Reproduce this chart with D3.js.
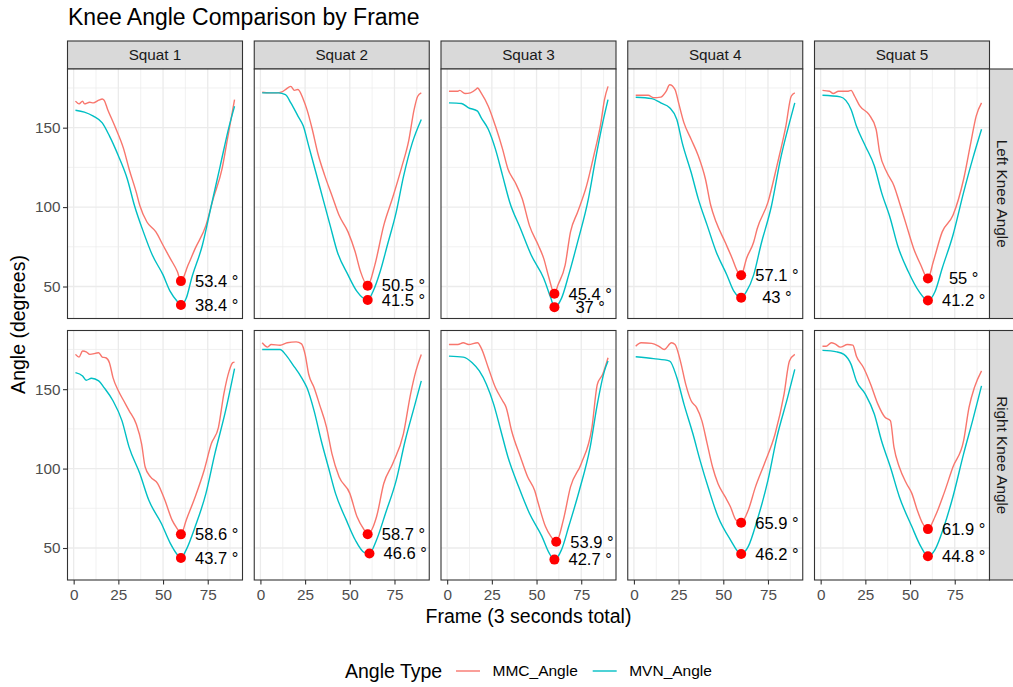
<!DOCTYPE html>
<html><head><meta charset="utf-8">
<script src="https://cdn.jsdelivr.net/npm/d3@7/dist/d3.min.js"></script>
<style>body{margin:0;background:#fff;} svg{display:block;font-family:"Liberation Sans",Arial,sans-serif;}</style>
</head><body>
<svg id="chart" width="1013" height="687"></svg>
<script>
// ---- Data (frame, angle) ----
const squats = ["Squat 1","Squat 2","Squat 3","Squat 4","Squat 5"];
const sides = ["Left Knee Angle","Right Knee Angle"];
const seriesNames = ["MMC_Angle","MVN_Angle"];
const xTicks = [0,25,50,75];
const yTicks = [50,100,150];

const L1_MMC = [[1,166.7],[3,165],[5,166.7],[6,165],[9,166],[11,165.6],[14,167.3],[16,168.1],[17,167.3],[19,161.5],[23,151],[28,136.5],[31,124],[35,109.4],[37,101],[41,90.6],[46,84.4],[50,76],[54,67.7],[58,59.4],[60,53.4],[64,63.5],[68,74],[74,88.5],[78,105],[83,124],[86,142.7],[90,167.7]];
const L1_MVN = [[1,161],[6,159.8],[11,157.3],[16,153],[20,144.8],[25,132.3],[30,117.7],[34,101],[39,84.4],[44,69.8],[50,57.3],[54,46.9],[58,40.6],[60,38.4],[63,42.7],[66,55.2],[72,76],[77,101],[82,126],[87,151],[90,163.5]];
const L2_MMC = [[1,172.3],[5,171.9],[9,171.9],[12,172.5],[14,174],[17,176],[19,173.5],[21,174],[24,167.7],[26,161.5],[29,149],[32,134.4],[36,119.8],[40,107.3],[44,94.8],[49,84.4],[53,71.9],[56,59.4],[60,50.5],[64,63.5],[69,88.5],[74,106],[79,125],[83,142],[86,161.5],[88,169.8],[90,171.9]];
const L2_MVN = [[1,171.9],[10,171.9],[14,170.8],[17,165.6],[21,157.3],[24,151],[27,138.5],[31,121.9],[35,105.2],[39,88.5],[43,71.9],[49,57.3],[54,46.9],[60,41.5],[63,46.9],[67,59.4],[71,76],[76,97],[80,119],[85,140.6],[90,155.2]];
const L3_MMC = [[1,172.9],[6,172.9],[7,173.5],[10,171.5],[13,171.9],[16,174],[17,175],[19,171.9],[23,163.5],[27,151],[31,136.5],[34,124],[38,115.6],[42,105.2],[46,88.5],[51,76],[54,67.7],[57,55.2],[60,45.4],[62,51],[66,63.5],[69,84.4],[73,96.9],[78,113.5],[82,132.3],[86,153],[88,167.7],[90,176]];
const L3_MVN = [[1,165.6],[8,165.2],[12,162.5],[17,160.4],[19,156.3],[23,149],[27,136.5],[31,119.8],[35,103.1],[41,86.5],[47,69.8],[54,55.2],[58,42.7],[60,37],[64,42.7],[68,57.3],[73,78.1],[79,105.2],[83,130.2],[87,153],[90,167.7]];
const L4_MMC = [[1,170.4],[8,170.4],[11,168.8],[15,169.2],[18,172.9],[20,177],[23,174],[25,165.6],[28,153],[32,142.7],[36,132.3],[40,117.7],[43,101],[46,90.6],[51,78],[55,67.7],[58,59.4],[60,57.1],[63,67.7],[67,78],[69,86.5],[75,103.1],[80,126],[85,151],[88,169.8],[90,171.9]];
const L4_MVN = [[1,169.2],[10,168.3],[15,165.6],[20,162.5],[24,155.2],[27,140.6],[32,121.9],[36,105.2],[41,88.5],[46,71.9],[52,57.3],[56,46.9],[60,43],[63,46.9],[67,57.3],[71,76],[77,101],[82,130.2],[87,153],[90,165.6]];
const L5_MMC = [[1,173.5],[5,172.9],[7,171.5],[10,172.9],[15,172.9],[17,173.5],[19,169.8],[22,163.5],[27,158.3],[31,149],[33,134.4],[37,121.9],[41,113.5],[44,103.1],[48,88.5],[52,74],[56,63.5],[60,55],[63,65.6],[68,84.4],[74,94.8],[80,117.7],[84,140.6],[87,157.3],[90,165.6]];
const L5_MVN = [[1,170.4],[11,169.4],[17,161.5],[20,151],[25,138.5],[30,126],[34,109.4],[39,92.7],[43,76],[49,59.4],[55,46.9],[60,41.2],[64,46.9],[68,61.5],[74,82.3],[80,109.4],[85,130.2],[90,149]];
const R1_MMC = [[1,171.9],[3,170.2],[5,174],[7,173.5],[9,171.9],[14,172.9],[16,170.2],[18,169.8],[20,166.7],[22,157.3],[25,149],[28,142.7],[31,136.5],[35,128.1],[38,115.6],[40,101],[43,94.8],[47,90.6],[51,80.2],[55,67.7],[59,60.4],[60,58.6],[63,67.7],[68,82.3],[73,99],[77,115.6],[81,126],[84,146.9],[87,161.5],[89,166.7],[90,167]];
const R1_MVN = [[1,160.4],[5,158.3],[7,155.6],[10,156.9],[14,155.2],[17,151],[22,142.7],[27,130.2],[31,113.5],[37,96.9],[42,80.2],[49,65.6],[54,53.1],[58,45.8],[60,43.7],[63,49],[68,63.5],[74,84.4],[79,109.4],[85,136.5],[90,163]];
const R2_MMC = [[1,179.2],[4,176.5],[6,178.1],[11,177.7],[15,179.2],[20,179.8],[23,178.5],[25,171.9],[27,159.4],[30,151],[33,140.6],[37,126],[40,109.4],[44,94.8],[50,84.4],[54,69.8],[58,61.5],[60,58.7],[65,69.8],[69,90.6],[74,103.1],[80,121.9],[84,146.9],[87,161.5],[90,171.9]];
const R2_MVN = [[1,175],[11,175],[14,171.9],[18,165.6],[23,157.3],[26,151],[30,136.5],[34,117.7],[38,101],[42,84.4],[48,67.7],[53,55.2],[58,47.3],[61,46.6],[65,55.2],[70,71.9],[76,92.7],[81,117.7],[86,138.5],[90,155.2]];
const R3_MMC = [[1,178.1],[6,178.1],[9,179.2],[12,178.1],[17,179.2],[19,176],[23,163.5],[27,151],[31,142.7],[33,138.5],[36,124],[41,107.3],[45,94.8],[49,86],[51,78],[55,63.5],[58,57.3],[61,53.9],[65,67.7],[69,88.5],[75,103.1],[81,126],[84,153],[87,159.4],[90,169.8]];
const R3_MVN = [[1,170.8],[9,170.2],[14,166.7],[18,161.5],[22,153],[26,140.6],[30,124],[34,107.3],[40,88.5],[46,71.9],[53,57.3],[57,46.9],[60,42.7],[64,49],[68,63.5],[74,86.5],[80,113.5],[84,140.6],[88,161.5],[90,167.7]];
const R4_MMC = [[1,177],[4,179.2],[10,178.8],[14,177],[17,175],[21,179.2],[23,178.1],[26,167.7],[29,153],[32,142.7],[35,138.5],[38,130.2],[41,115.6],[44,101],[47,90.6],[51,82.3],[54,76],[57,67.7],[60,65.9],[64,74],[68,88.5],[73,103.1],[79,121.9],[84,146.9],[87,167.7],[90,171.9]];
const R4_MVN = [[1,170.4],[11,169.2],[20,167.7],[24,157.3],[28,140.6],[33,121.9],[37,105.2],[42,86.5],[47,69.8],[54,55.2],[60,46.2],[64,51],[69,67.7],[75,92.7],[80,119.8],[86,144.8],[90,162.5]];
const R5_MMC = [[1,177],[3,177],[6,179.2],[8,178.5],[11,176.5],[15,178.1],[18,177.7],[20,170.8],[24,163.5],[28,153],[32,140.6],[36,132.3],[39,130.2],[41,113.5],[44,101],[48,90.6],[51,84.4],[54,74],[57,65.6],[60,61.9],[64,69.8],[69,84.4],[74,101],[80,117.7],[83,138.5],[86,151],[90,161.5]];
const R5_MVN = [[1,174.4],[9,173.5],[13,171.9],[17,165.6],[20,155.2],[25,146.9],[30,134.4],[34,117.7],[39,101],[44,82.3],[51,63.5],[56,51],[60,44.8],[64,49],[69,63.5],[74,82.3],[80,109.4],[85,130.2],[90,152.1]];

const panelData = [
  [[L1_MMC,L1_MVN],[L2_MMC,L2_MVN],[L3_MMC,L3_MVN],[L4_MMC,L4_MVN],[L5_MMC,L5_MVN]],
  [[R1_MMC,R1_MVN],[R2_MMC,R2_MVN],[R3_MMC,R3_MVN],[R4_MMC,R4_MVN],[R5_MMC,R5_MVN]]
];
const colors = ["#F8766D","#00BFC4"];

// ---- Layout ----
const svg = d3.select("#chart");
const panelLeft = 67.5, panelW = 175, gapX = 11.75;
const stripTop = 41, stripH = 28;
const rowTop = [69, 330.5], panelH = 249.5;
const rStripW = 27;

const all = panelData.flat(2).flat();
const xExt = d3.extent(all, d=>d[0]), yExt = d3.extent(all, d=>d[1]);
const xPad = (xExt[1]-xExt[0])*0.05, yPad = (yExt[1]-yExt[0])*0.05;

const x = d3.scaleLinear().domain([xExt[0]-xPad, xExt[1]+xPad]).range([0,panelW]);
const y = d3.scaleLinear().domain([yExt[0]-yPad, yExt[1]+yPad]).range([panelH,0]);
const line = d3.line().x(d=>x(d[0])).y(d=>y(d[1])).curve(d3.curveMonotoneX);
const fmt = v => String(+v.toFixed(1)) + " \u00B0";

// Title
svg.append("text").attr("x",68).attr("y",25).attr("font-size",23).attr("fill","#000").text("Knee Angle Comparison by Frame");

squats.forEach((sq,ci)=>{
  const px = panelLeft + ci*(panelW+gapX);
  // top strip
  svg.append("rect").attr("x",px).attr("y",stripTop).attr("width",panelW).attr("height",stripH)
    .attr("fill","#D9D9D9").attr("stroke","#333333").attr("stroke-width",1.1);
  svg.append("text").attr("x",px+panelW/2).attr("y",stripTop+stripH/2).attr("dy","0.35em")
    .attr("text-anchor","middle").attr("font-size",15.3).attr("fill","#1A1A1A").text(sq);

  sides.forEach((side,ri)=>{
    const py = rowTop[ri];
    const g = svg.append("g").attr("transform",`translate(${px},${py})`);
    g.append("rect").attr("width",panelW).attr("height",panelH).attr("fill","#fff");
    // minor grid
    const xMinor = xTicks.map(t=>t+12.5).filter(t=>x(t)<=panelW);
    const yMinor = [25,75,125,175].filter(t=>y(t)>=0 && y(t)<=panelH);
    g.selectAll(".xmin").data(xMinor).join("line").attr("x1",d=>x(d)).attr("x2",d=>x(d)).attr("y1",0).attr("y2",panelH)
      .attr("stroke","#EBEBEB").attr("stroke-width",0.7);
    g.selectAll(".ymin").data(yMinor).join("line").attr("y1",d=>y(d)).attr("y2",d=>y(d)).attr("x1",0).attr("x2",panelW)
      .attr("stroke","#EBEBEB").attr("stroke-width",0.7);
    g.selectAll(".xmaj").data(xTicks).join("line").attr("x1",d=>x(d)).attr("x2",d=>x(d)).attr("y1",0).attr("y2",panelH)
      .attr("stroke","#EBEBEB").attr("stroke-width",1.3);
    g.selectAll(".ymaj").data(yTicks).join("line").attr("y1",d=>y(d)).attr("y2",d=>y(d)).attr("x1",0).attr("x2",panelW)
      .attr("stroke","#EBEBEB").attr("stroke-width",1.3);

    const pair = panelData[ri][ci];
    pair.forEach((s,si)=>{
      g.append("path").datum(s).attr("d",line).attr("fill","none").attr("stroke",colors[si]).attr("stroke-width",1.4);
    });
    pair.forEach((s)=>{
      const m = d3.least(s, d=>d[1]);
      g.append("circle").attr("cx",x(m[0])).attr("cy",y(m[1])).attr("r",5).attr("fill","#FF0000");
      g.append("text").attr("x",x(m[0]+20)).attr("y",y(m[1])).attr("dy","0.35em").attr("text-anchor","middle")
        .attr("font-size",16.5).attr("fill","#000").text(fmt(m[1]));
    });
    g.append("rect").attr("width",panelW).attr("height",panelH).attr("fill","none").attr("stroke","#333333").attr("stroke-width",1.1);

    // y axis on first column
    if(ci===0){
      const ay = g.append("g").call(d3.axisLeft(y).tickValues(yTicks).tickSize(4.5).tickPadding(2.5));
      ay.select(".domain").remove();
      ay.selectAll(".tick line").attr("stroke","#333333").attr("stroke-width",1.1);
      ay.selectAll(".tick text").attr("font-size",15.3).attr("fill","#4D4D4D").attr("font-family",null);
    }
    // x axis on last row
    if(ri===1){
      const ax = g.append("g").attr("transform",`translate(0,${panelH})`).call(d3.axisBottom(x).tickValues(xTicks).tickSize(4.5).tickPadding(4.5));
      ax.select(".domain").remove();
      ax.selectAll(".tick line").attr("stroke","#333333").attr("stroke-width",1.1);
      ax.selectAll(".tick text").attr("font-size",15.3).attr("fill","#4D4D4D").attr("font-family",null);
    }
    // right strips
    if(ci===squats.length-1){
      const sx = px+panelW;
      svg.append("rect").attr("x",sx).attr("y",py).attr("width",rStripW).attr("height",panelH)
        .attr("fill","#D9D9D9").attr("stroke","#333333").attr("stroke-width",1.1);
      svg.append("text").attr("transform",`translate(${sx+13},${py+panelH/2}) rotate(90)`).attr("dy","0.35em")
        .attr("text-anchor","middle").attr("font-size",15.3).attr("fill","#1A1A1A").text(side);
    }
  });
});

// Axis titles
const plotMidX = panelLeft + (5*panelW+4*gapX)/2;
svg.append("text").attr("x",plotMidX).attr("y",623).attr("text-anchor","middle").attr("font-size",19.5).attr("fill","#000").text("Frame (3 seconds total)");
svg.append("text").attr("transform",`translate(25,${(rowTop[0]+rowTop[1]+panelH)/2}) rotate(-90)`).attr("text-anchor","middle")
  .attr("font-size",19.5).attr("fill","#000").text("Angle (degrees)");

// Legend
const lg = svg.append("g").attr("transform","translate(345,671)");
lg.append("text").attr("x",0).attr("y",0).attr("dy","0.35em").attr("font-size",19.5).attr("fill","#000").text("Angle Type");
const legX = [111, 247.7];
seriesNames.forEach((n,i)=>{
  lg.append("line").attr("x1",legX[i]).attr("x2",legX[i]+24).attr("y1",0).attr("y2",0).attr("stroke",colors[i]).attr("stroke-width",1.4);
  lg.append("text").attr("x",legX[i]+36.5).attr("y",0).attr("dy","0.35em").attr("font-size",15.5).attr("fill","#000").text(n);
});
</script>
</body></html>
